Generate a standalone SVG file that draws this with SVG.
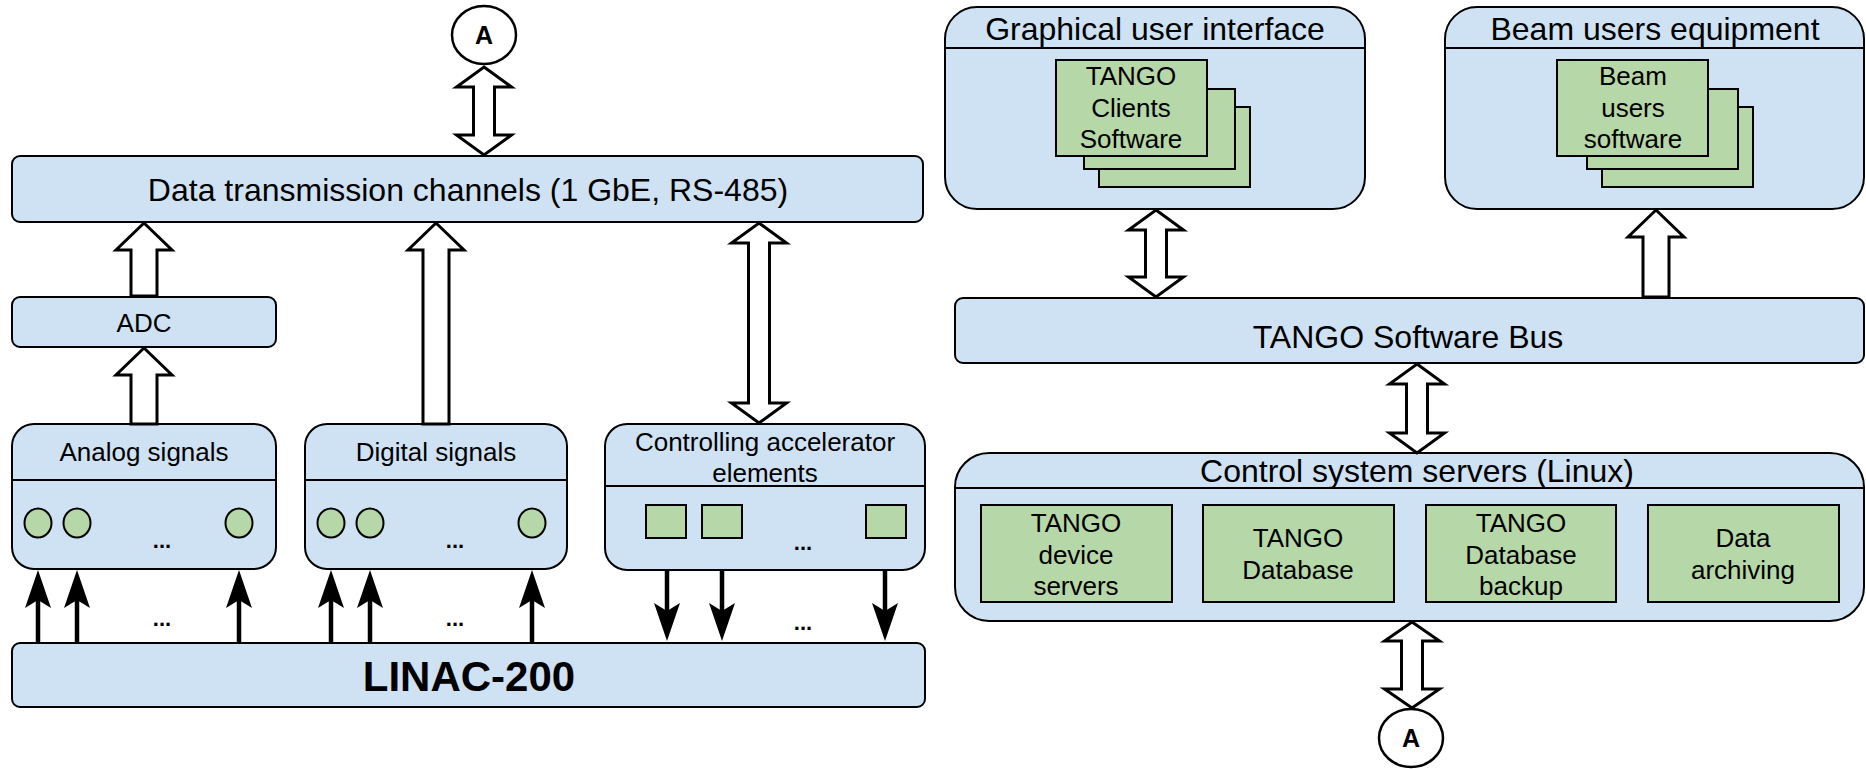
<svg xmlns="http://www.w3.org/2000/svg" xmlns:xlink="http://www.w3.org/1999/xlink" width="1866" height="769" viewBox="0 0 1866 769">
<style>
.box{fill:#cfe2f3;stroke:#000;stroke-width:2}
.div{stroke:#000;stroke-width:2}
.g{fill:#b6d7a8;stroke:#000;stroke-width:2}
.t{font-family:"Liberation Sans",Arial,sans-serif;fill:#000;text-anchor:middle}
.f26{font-size:26px}
.f32{font-size:32px}
.dots{font-size:22px;font-weight:bold}
.blk{fill:#fff;stroke:#000;stroke-width:3;stroke-linejoin:miter}
.thin{stroke:#000;stroke-width:4.5;fill:none}
.circ{fill:#fff;stroke:#000;stroke-width:2.5}
.lblA{font-size:25px;font-weight:bold}
</style>
<defs>
<path id="ahUp" d="M0,0 L13,38 L0,30 L-13,38 Z" fill="#000"/>
<path id="ahDown" d="M0,0 L13,-38 L0,-30 L-13,-38 Z" fill="#000"/>
</defs>
<rect width="1866" height="769" fill="#fff"/>

<g id="connA-top">
<ellipse class="circ" cx="484" cy="35" rx="32" ry="29"/>
<text class="t lblA" x="484" y="44">A</text>
</g>

<g id="dtc">
<rect class="box" x="12" y="156" width="911" height="66" rx="8"/>
<text class="t f32" x="468" y="201">Data transmission channels (1 GbE, RS-485)</text>
</g>

<g id="adc">
<rect class="box" x="12" y="297" width="264" height="50" rx="8"/>
<text class="t f26" x="144" y="332">ADC</text>
</g>

<g id="analog">
<rect class="box" x="12" y="424" width="264" height="145" rx="22"/>
<line class="div" x1="12" y1="480" x2="276" y2="480"/>
<text class="t f26" x="144" y="461">Analog signals</text>
<ellipse class="g" cx="38" cy="523" rx="13.5" ry="14.5"/>
<ellipse class="g" cx="77" cy="523" rx="13.5" ry="14.5"/>
<ellipse class="g" cx="239" cy="523" rx="13.5" ry="14.5"/>
<text class="t dots" x="162" y="548">...</text>
</g>

<g id="digital">
<rect class="box" x="305" y="424" width="262" height="145" rx="22"/>
<line class="div" x1="305" y1="480" x2="567" y2="480"/>
<text class="t f26" x="436" y="461">Digital signals</text>
<ellipse class="g" cx="331" cy="523" rx="13.5" ry="14.5"/>
<ellipse class="g" cx="370" cy="523" rx="13.5" ry="14.5"/>
<ellipse class="g" cx="532" cy="523" rx="13.5" ry="14.5"/>
<text class="t dots" x="455" y="548">...</text>
</g>

<g id="controlling">
<rect class="box" x="605" y="424" width="320" height="146" rx="22"/>
<line class="div" x1="605" y1="486" x2="925" y2="486"/>
<text class="t f26" x="765" y="451">Controlling accelerator</text>
<text class="t f26" x="765" y="482">elements</text>
<rect class="g" x="646" y="505" width="40" height="33"/>
<rect class="g" x="702" y="505" width="40" height="33"/>
<rect class="g" x="866" y="505" width="40" height="33"/>
<text class="t dots" x="803" y="550">...</text>
</g>

<g id="linac">
<rect class="box" x="12" y="643" width="913" height="64" rx="8"/>
<text class="t" x="469" y="691" font-size="42" font-weight="bold">LINAC-200</text>
</g>

<g id="gui">
<rect class="box" x="945" y="7" width="420" height="202" rx="32"/>
<line class="div" x1="945" y1="48" x2="1365" y2="48"/>
<text class="t f32" x="1155" y="40">Graphical user interface</text>
<rect class="g" x="1099" y="107" width="151" height="80"/>
<rect class="g" x="1084" y="89" width="151" height="80"/>
<rect class="g" x="1056" y="60" width="151" height="96"/>
<text class="t f26" x="1131" y="85">TANGO</text>
<text class="t f26" x="1131" y="117">Clients</text>
<text class="t f26" x="1131" y="148">Software</text>
</g>

<g id="beam">
<rect class="box" x="1445" y="7" width="419" height="202" rx="32"/>
<line class="div" x1="1445" y1="48" x2="1864" y2="48"/>
<text class="t f32" x="1655" y="40">Beam users equipment</text>
<rect class="g" x="1602" y="107" width="151" height="80"/>
<rect class="g" x="1587" y="89" width="151" height="80"/>
<rect class="g" x="1557" y="60" width="151" height="96"/>
<text class="t f26" x="1633" y="85">Beam</text>
<text class="t f26" x="1633" y="117">users</text>
<text class="t f26" x="1633" y="148">software</text>
</g>

<g id="bus">
<rect class="box" x="955" y="298" width="909" height="65" rx="8"/>
<text class="t f32" x="1408" y="348">TANGO Software Bus</text>
</g>

<g id="servers">
<rect class="box" x="955" y="453" width="909" height="168" rx="34"/>
<line class="div" x1="955" y1="488" x2="1864" y2="488"/>
<text class="t f32" x="1417" y="482">Control system servers (Linux)</text>
<rect class="g" x="981" y="505" width="191" height="97"/>
<rect class="g" x="1203" y="505" width="191" height="97"/>
<rect class="g" x="1426" y="505" width="190" height="97"/>
<rect class="g" x="1648" y="505" width="191" height="97"/>
<text class="t f26" x="1076" y="532">TANGO</text>
<text class="t f26" x="1076" y="563.5">device</text>
<text class="t f26" x="1076" y="595">servers</text>
<text class="t f26" x="1298" y="547">TANGO</text>
<text class="t f26" x="1298" y="579">Database</text>
<text class="t f26" x="1521" y="532">TANGO</text>
<text class="t f26" x="1521" y="563.5">Database</text>
<text class="t f26" x="1521" y="595">backup</text>
<text class="t f26" x="1743" y="547">Data</text>
<text class="t f26" x="1743" y="579">archiving</text>
</g>

<g id="connA-bottom">
<ellipse class="circ" cx="1411" cy="738" rx="32" ry="29"/>
<text class="t lblA" x="1411" y="747">A</text>
</g>

<g id="connectors">
<path class="blk" d="M484,67 L511.5,87 L494.5,87 L494.5,135 L511.5,135 L484,155 L456.5,135 L473.5,135 L473.5,87 L456.5,87 Z"/>
<path class="blk" d="M759,223 L786.5,243 L769.5,243 L769.5,403 L786.5,403 L759,423 L731.5,403 L748.5,403 L748.5,243 L731.5,243 Z"/>
<path class="blk" d="M1156,210 L1183.5,230 L1166.5,230 L1166.5,277 L1183.5,277 L1156,297 L1128.5,277 L1145.5,277 L1145.5,230 L1128.5,230 Z"/>
<path class="blk" d="M1417,364 L1444.5,384 L1427.5,384 L1427.5,433 L1444.5,433 L1417,453 L1389.5,433 L1406.5,433 L1406.5,384 L1389.5,384 Z"/>
<path class="blk" d="M1412,622 L1439.5,641 L1422.5,641 L1422.5,689 L1439.5,689 L1412,708 L1384.5,689 L1401.5,689 L1401.5,641 L1384.5,641 Z"/>
<path class="blk" d="M144,223 L172,250 L157,250 L157,296 L131,296 L131,250 L116,250 Z"/>
<path class="blk" d="M144,348 L172,375 L157,375 L157,424 L131,424 L131,375 L116,375 Z"/>
<path class="blk" d="M436,223 L464,250 L449,250 L449,424 L423,424 L423,250 L408,250 Z"/>
<path class="blk" d="M1656,210 L1684,237 L1669,237 L1669,297 L1643,297 L1643,237 L1628,237 Z"/>
<line class="thin" x1="38" y1="643" x2="38" y2="598"/>
<line class="thin" x1="77" y1="643" x2="77" y2="598"/>
<line class="thin" x1="239" y1="643" x2="239" y2="598"/>
<line class="thin" x1="331" y1="643" x2="331" y2="598"/>
<line class="thin" x1="370" y1="643" x2="370" y2="598"/>
<line class="thin" x1="532" y1="643" x2="532" y2="598"/>
<use xlink:href="#ahUp" x="38" y="570"/>
<use xlink:href="#ahUp" x="77" y="570"/>
<use xlink:href="#ahUp" x="239" y="570"/>
<use xlink:href="#ahUp" x="331" y="570"/>
<use xlink:href="#ahUp" x="370" y="570"/>
<use xlink:href="#ahUp" x="532" y="570"/>
<line class="thin" x1="667" y1="570" x2="667" y2="612"/>
<line class="thin" x1="722" y1="570" x2="722" y2="612"/>
<line class="thin" x1="885" y1="570" x2="885" y2="612"/>
<use xlink:href="#ahDown" x="667" y="641"/>
<use xlink:href="#ahDown" x="722" y="641"/>
<use xlink:href="#ahDown" x="885" y="641"/>
<text class="t dots" x="162" y="626">...</text>
<text class="t dots" x="455" y="626">...</text>
<text class="t dots" x="803" y="630">...</text>
</g>
</svg>
